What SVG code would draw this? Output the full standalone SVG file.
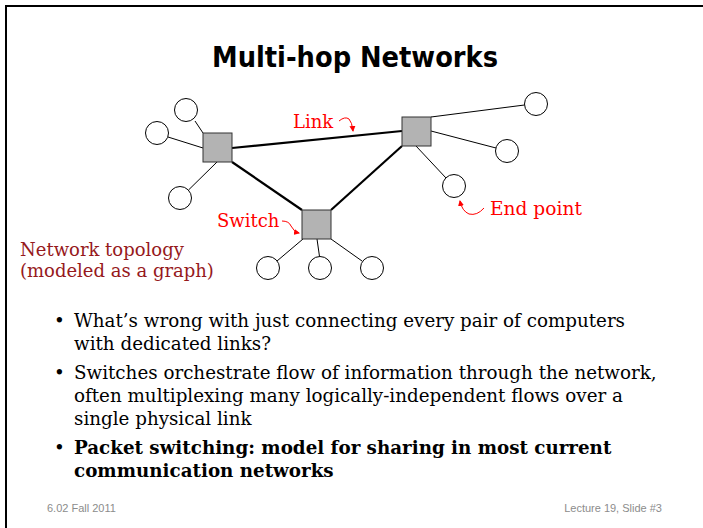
<svg xmlns="http://www.w3.org/2000/svg" width="703" height="528" viewBox="0 0 703 528">
  <defs>
    <style>
      .frame { stroke: #000; stroke-width: 2; fill: none; }
      .title { font-family: "DejaVu Sans", "Liberation Sans", sans-serif; font-weight: bold; font-size: 28px; fill: #000; }
      .sw { fill: #b3b3b3; stroke: #333; stroke-width: 1; }
      .ep { fill: #fff; stroke: #000; stroke-width: 1; }
      .trunk { stroke: #000; stroke-width: 2.2; fill: none; }
      .access { stroke: #000; stroke-width: 1; fill: none; }
      .lbl { font-family: "DejaVu Serif", "Liberation Serif", serif; font-size: 18px; fill: #f00; }
      .note { font-family: "DejaVu Serif", "Liberation Serif", serif; font-size: 18px; fill: #96191c; }
      .body { font-family: "DejaVu Serif", "Liberation Serif", serif; font-size: 18.3px; fill: #000; }
      .bold { font-weight: bold; }
      .foot { font-family: "Liberation Sans", sans-serif; font-size: 11px; fill: #8c8c8c; }
      .callout { fill: none; stroke: #f00; stroke-width: 1; }
    </style>
    <marker id="ah" viewBox="0 0 6 6" refX="5" refY="3" markerWidth="6" markerHeight="6" markerUnits="userSpaceOnUse" orient="auto">
      <path d="M0,0 L6,3 L0,6 z" fill="#f00"/>
    </marker>
  </defs>

  <rect width="703" height="528" fill="#fff"/>
  <!-- slide frame: top and left rules -->
  <path class="frame" d="M6,528 V6 H703"/>

  <text class="title" x="355" y="67" text-anchor="middle" textLength="286" lengthAdjust="spacingAndGlyphs">Multi-hop Networks</text>

  <!-- links between switches and end points -->
  <g id="connectors">
    <line class="trunk" x1="232" y1="148" x2="402" y2="131"/>
    <line class="trunk" x1="232" y1="162" x2="302" y2="210"/>
    <line class="trunk" x1="331" y1="210" x2="402" y2="146"/>
    <line class="access" x1="195" y1="121" x2="203" y2="133"/>
    <line class="access" x1="168" y1="137" x2="203" y2="148"/>
    <line class="access" x1="188.5" y1="190" x2="217" y2="162"/>
    <line class="access" x1="524.5" y1="105" x2="431" y2="117"/>
    <line class="access" x1="496" y1="148" x2="431" y2="131"/>
    <line class="access" x1="446" y1="178" x2="416" y2="146"/>
    <line class="access" x1="277" y1="261" x2="303" y2="239"/>
    <line class="access" x1="319.5" y1="256.5" x2="317" y2="239"/>
    <line class="access" x1="362" y1="261" x2="331" y2="239"/>
  </g>

  <!-- switches -->
  <g id="switch-left"><rect class="sw" x="203" y="133" width="29" height="29"/></g>
  <g id="switch-right"><rect class="sw" x="402" y="117" width="29" height="29"/></g>
  <g id="switch-bottom"><rect class="sw" x="302" y="210" width="29" height="29"/></g>

  <!-- end points -->
  <g id="host-1"><circle class="ep" cx="186" cy="110" r="11.5"/></g>
  <g id="host-2"><circle class="ep" cx="157" cy="133" r="11.5"/></g>
  <g id="host-3"><circle class="ep" cx="180" cy="198" r="11.5"/></g>
  <g id="host-4"><circle class="ep" cx="536" cy="104" r="11.5"/></g>
  <g id="host-5"><circle class="ep" cx="507" cy="151" r="11.5"/></g>
  <g id="host-6"><circle class="ep" cx="454" cy="186" r="11.5"/></g>
  <g id="host-7"><circle class="ep" cx="268" cy="268" r="11.5"/></g>
  <g id="host-8"><circle class="ep" cx="320" cy="268" r="11.5"/></g>
  <g id="host-9"><circle class="ep" cx="372" cy="268" r="11.5"/></g>

  <!-- callout labels -->
  <g id="label-link">
    <text class="lbl" x="293" y="128">Link</text>
    <path class="callout" d="M339,121 Q345,116 349,119 Q352,122 353,131" marker-end="url(#ah)"/>
  </g>
  <g id="label-switch">
    <text class="lbl" x="217" y="227">Switch</text>
    <path class="callout" d="M282,221 Q289,221 291,226 Q294,232 299,233" marker-end="url(#ah)"/>
  </g>
  <g id="label-endpoint">
    <text class="lbl" x="490" y="215" style="font-size:18.6px">End point</text>
    <path class="callout" d="M484,208 Q477,216 469,214 Q462,211 460,201" marker-end="url(#ah)"/>
  </g>

  <g id="caption">
    <text class="note" x="20" y="256">Network topology</text>
    <text class="note" x="20" y="277">(modeled as a graph)</text>
  </g>

  <g id="bullets">
    <text class="body" x="54" y="327">•</text>
    <text class="body" x="74" y="327">What’s wrong with just connecting every pair of computers</text>
    <text class="body" x="74" y="350">with dedicated links?</text>
    <text class="body" x="54" y="379">•</text>
    <text class="body" x="74" y="379">Switches orchestrate flow of information through the network,</text>
    <text class="body" x="74" y="402">often multiplexing many logically-independent flows over a</text>
    <text class="body" x="74" y="425">single physical link</text>
    <text class="body" x="54" y="454">•</text>
    <text class="body bold" x="74" y="454">Packet switching: model for sharing in most current</text>
    <text class="body bold" x="74" y="477">communication networks</text>
  </g>

  <text class="foot" x="47" y="512">6.02 Fall 2011</text>
  <text class="foot" x="662" y="512" text-anchor="end">Lecture 19, Slide #3</text>
</svg>
